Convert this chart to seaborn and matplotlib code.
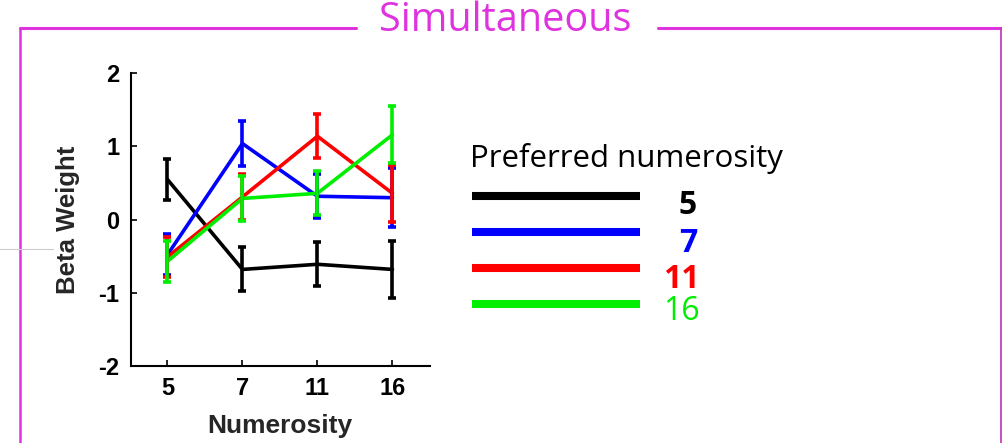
import matplotlib
matplotlib.use("Agg")
import matplotlib.pyplot as plt
from matplotlib.lines import Line2D
import numpy as np
import pandas as pd
import seaborn as sns

# Stimulus numerosities (x axis) and preferred numerosity groups (series)
numerosity = ["5", "7", "11", "16"]
groups = ["5", "7", "11", "16"]
colors = ["#000000", "#0000FF", "#FF0000", "#00EE00"]

# Mean beta weights per preferred-numerosity group
beta_5 = [0.55, -0.68, -0.61, -0.68]
beta_7 = [-0.48, 1.04, 0.32, 0.30]
beta_11 = [-0.51, 0.31, 1.14, 0.36]
beta_16 = [-0.57, 0.29, 0.36, 1.16]

# Standard errors
err_5 = [0.28, 0.30, 0.30, 0.39]
err_7 = [0.28, 0.31, 0.30, 0.40]
err_11 = [0.27, 0.31, 0.30, 0.39]
err_16 = [0.28, 0.31, 0.30, 0.39]

means = [beta_5, beta_7, beta_11, beta_16]
errs = [err_5, err_7, err_11, err_16]

rows = []
for g, m, e in zip(groups, means, errs):
    for i, (mv, ev) in enumerate(zip(m, e)):
        rows.append({"pos": i, "numerosity": numerosity[i], "group": g,
                     "beta": mv, "se": ev})
df = pd.DataFrame(rows)

sns.set_theme(style="white")
plt.rcParams["font.family"] = ["Liberation Sans", "DejaVu Sans"]

fig = plt.figure(figsize=(10.02, 4.43), dpi=100)
ax = fig.add_axes([0.1304, 0.1738, 0.2987, 0.6607])

sns.lineplot(data=df, x="pos", y="beta", hue="group", palette=colors,
             hue_order=groups, linewidth=2.6, legend=False, ax=ax,
             errorbar=None, sort=False)
for g, c in zip(groups, colors):
    sub = df[df["group"] == g]
    ax.errorbar(sub["pos"], sub["beta"], yerr=sub["se"], fmt="none",
                ecolor=c, elinewidth=2.6, capsize=3, capthick=2.6)

ax.set_xlim(-0.49, 3.5)
ax.set_ylim(-2, 2)
ax.set_xticks(range(len(numerosity)))
ax.set_xticklabels(numerosity)
ax.set_yticks([-2, -1, 0, 1, 2])
ax.set_yticklabels(["-2", "-1", "0", "1", "2"])
for lab in ax.get_xticklabels() + ax.get_yticklabels():
    lab.set_fontweight("bold")
    lab.set_fontsize(17)
ax.tick_params(direction="in", length=4, width=1.2, colors="black",
               left=True, bottom=True, pad=8)
ax.set_xlabel("Numerosity", fontsize=19, fontweight="bold", labelpad=10)
ax.set_ylabel("Beta Weight", fontsize=18.5, fontweight="bold", labelpad=13)
sns.despine(ax=ax)
for s in ["left", "bottom"]:
    ax.spines[s].set_linewidth(1.5)
    ax.spines[s].set_color("black")

W, H = 1002, 443
def fx(px):
    return px / W
def fy(py):
    return 1 - py / H

mag = "#E033E0"
cal = ["Open Sans", "DejaVu Sans"]
# Frame around the panel with a gap for the title
fig.add_artist(Line2D([fx(20), fx(356)], [fy(28), fy(28)], color=mag, lw=2.2))
fig.add_artist(Line2D([fx(658), fx(1001)], [fy(28), fy(28)], color=mag, lw=2.2))
fig.add_artist(Line2D([fx(20), fx(20)], [fy(28), 0], color=mag, lw=1.8))
fig.add_artist(Line2D([fx(1000.5), fx(1000.5)], [fy(28), 0], color="#C040C0", lw=1.3))
fig.add_artist(Line2D([0, fx(53)], [fy(249), fy(249)], color="#CCCCCC", lw=0.8))
fig.text(fx(505), fy(21), "Simultaneous", color=mag, fontsize=28.5,
         family=cal, ha="center", va="center")

# Legend
fig.text(fx(470), fy(159), "Preferred numerosity", color="black", fontsize=22.5,
         family=cal, ha="left", va="center")
leg_y = [196.5, 232.5, 268, 304]
lab_x = [688, 688, 681, 681]
lab_y = [206, 243, 279, 311]
weights = ["bold", "bold", "bold", "normal"]
for g, c, ly, lx, ty, w in zip(groups, colors, leg_y, lab_x, lab_y, weights):
    fig.add_artist(Line2D([fx(472), fx(640)], [fy(ly), fy(ly)], color=c,
                          lw=5.8, solid_capstyle="butt"))
    fig.text(fx(lx), fy(ty), g, color=c, fontsize=23, fontweight=w,
             family=cal, ha="center", va="center")

fig.savefig("out.png", dpi=100)
